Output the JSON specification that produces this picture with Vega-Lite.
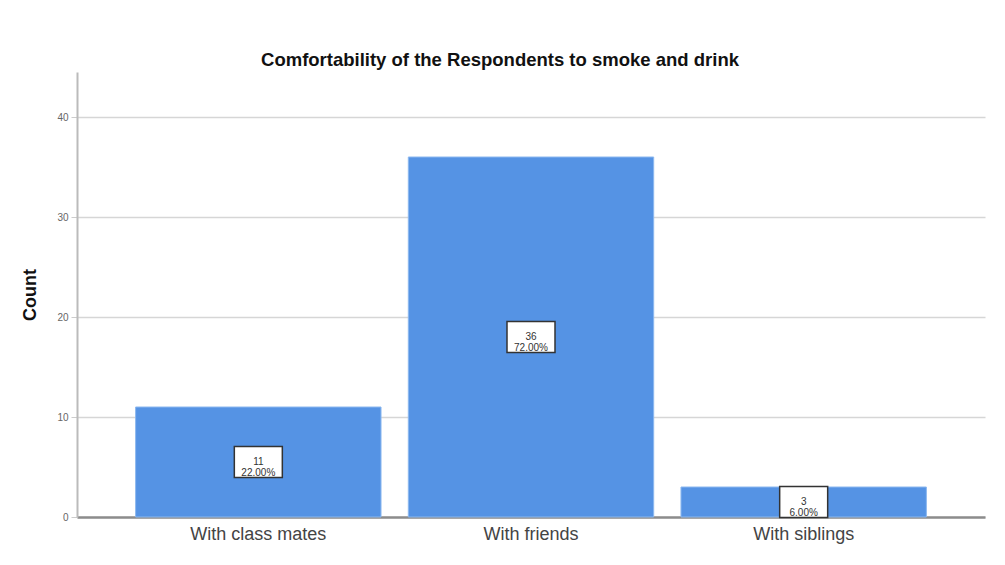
{
  "$schema": "https://vega.github.io/schema/vega-lite/v6.json",
  "width": 908,
  "height": 445,
  "autosize": {"type": "none"},
  "padding": {"left": 77, "top": 72, "right": 20, "bottom": 48},
  "background": "white",
  "title": {
    "text": "Comfortability of the Respondents to smoke and drink",
    "font": "Liberation Sans",
    "fontSize": 18.5,
    "fontWeight": "bold",
    "color": "#111",
    "anchor": "middle",
    "dx": -31,
    "offset": 3
  },
  "data": {
    "values": [
      {"category": "With class mates", "count": 11, "pct": 22.0},
      {"category": "With friends", "count": 36, "pct": 72.0},
      {"category": "With siblings", "count": 3, "pct": 6.0}
    ]
  },
  "transform": [
    {"calculate": "datum.count / 2", "as": "mid"},
    {"calculate": "datum.count / 2 - 1.55", "as": "boxLo"},
    {"calculate": "datum.count / 2 + 1.55", "as": "boxHi"},
    {"calculate": "datum.count + '\\n' + format(datum.pct, '.2f') + '%'", "as": "label"}
  ],
  "encoding": {
    "x": {
      "field": "category",
      "type": "nominal",
      "sort": null,
      "scale": {"paddingInner": 0.1, "paddingOuter": 0.215},
      "axis": {
        "title": null,
        "labelAngle": 0,
        "labelFont": "Liberation Sans",
        "labelFontSize": 18,
        "labelColor": "#444",
        "labelPadding": 8,
        "ticks": false,
        "domainColor": "#8c8c8c",
        "domainWidth": 2.5,
        "grid": false
      }
    }
  },
  "layer": [
    {
      "mark": {"type": "bar", "color": "#5593e4", "stroke": "#8cb8ef", "strokeWidth": 1},
      "encoding": {
        "y": {
          "field": "count",
          "type": "quantitative",
          "scale": {"domain": [0, 44.5], "nice": false},
          "axis": {
            "title": "Count",
            "titleFont": "Liberation Sans",
            "titleFontSize": 18,
            "titleFontWeight": "bold",
            "titleColor": "#111",
            "titlePadding": 17,
            "values": [0, 10, 20, 30, 40],
            "labelFont": "Liberation Sans",
            "labelFontSize": 10,
            "labelColor": "#666",
            "labelPadding": 3,
            "tickColor": "#cccccc",
            "tickSize": 6,
            "domainColor": "#bbbbbb",
            "domainWidth": 2,
            "gridColor": "#d6d6d6",
            "gridWidth": 1.5
          }
        }
      }
    },
    {
      "mark": {"type": "bar", "width": 48, "color": "white", "stroke": "#333", "strokeWidth": 1.5},
      "encoding": {
        "y": {"field": "boxLo", "type": "quantitative"},
        "y2": {"field": "boxHi"}
      }
    },
    {
      "mark": {"type": "text", "font": "Liberation Sans", "fontSize": 10, "color": "#333", "lineBreak": "\n", "lineHeight": 11, "baseline": "middle"},
      "encoding": {
        "y": {"field": "mid", "type": "quantitative"},
        "text": {"field": "label"}
      }
    }
  ],
  "config": {"view": {"stroke": null}}
}
